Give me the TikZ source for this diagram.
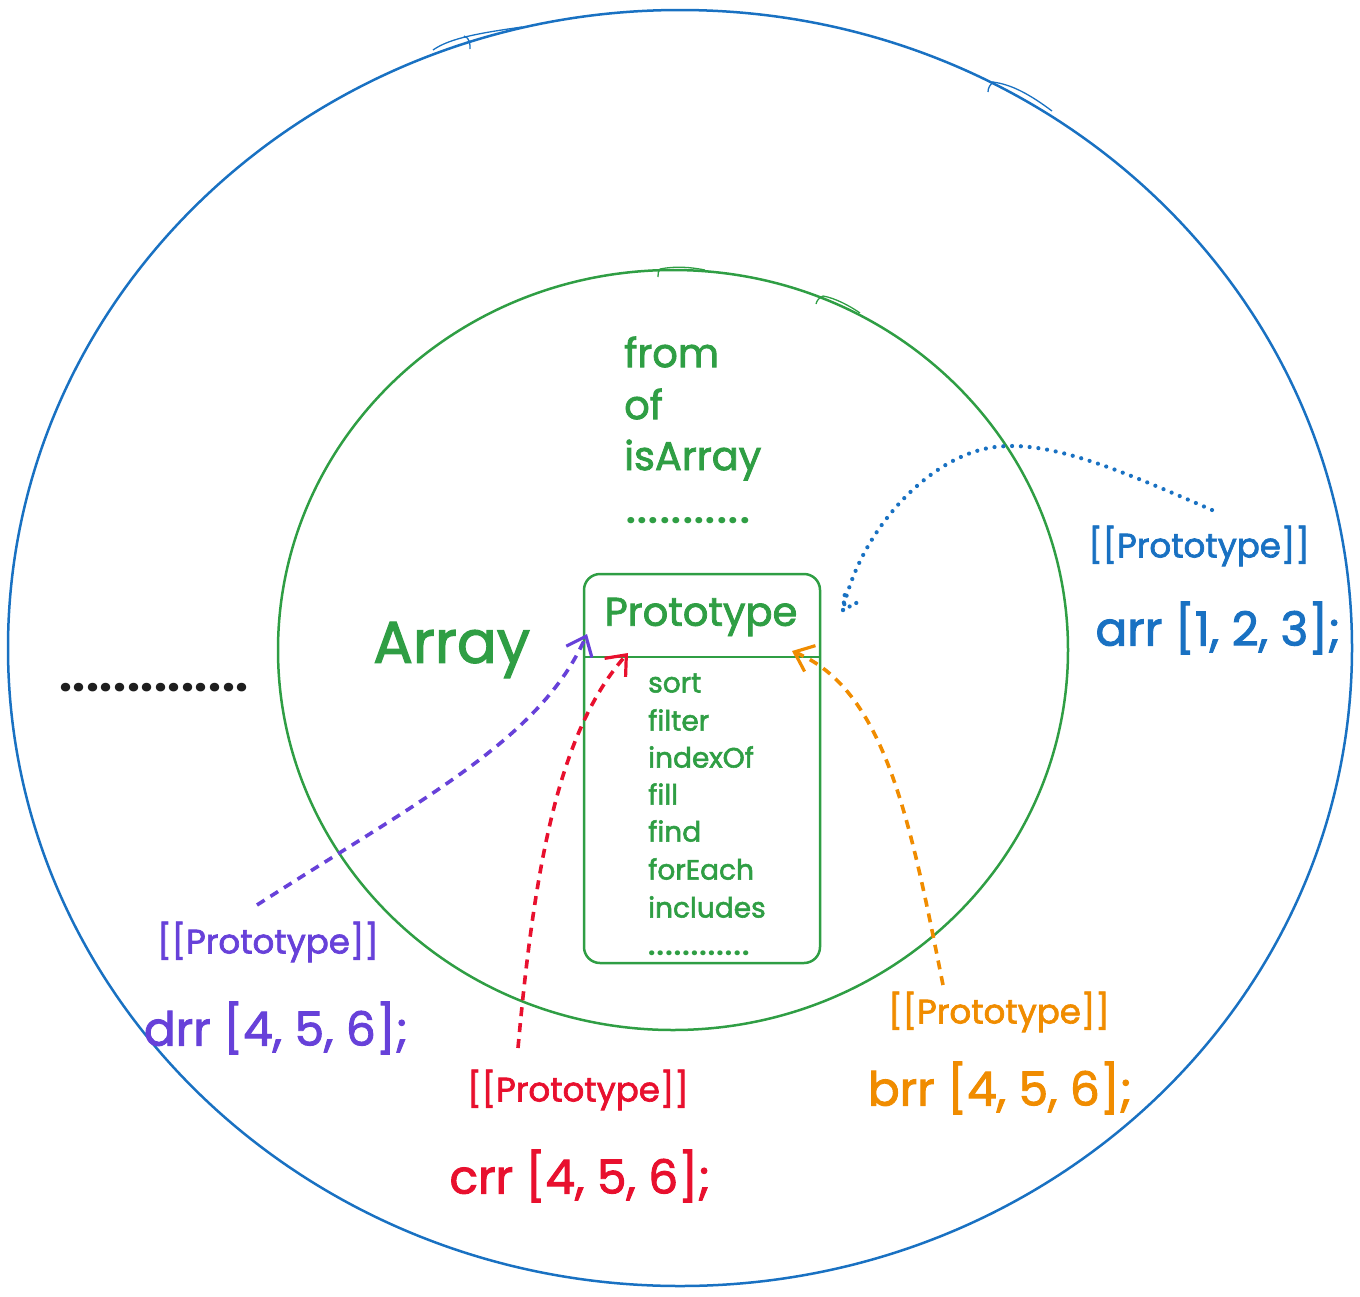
\documentclass[tikz,border=0pt]{standalone}
\usepackage{fontspec}
\setmainfont{Poppins}
\newfontfamily\hand{Poppins}[FakeBold=2]
\usetikzlibrary{arrows.meta}
\definecolor{cblue}{HTML}{1971C2}
\definecolor{cgreen}{HTML}{2F9E44}
\definecolor{cpurple}{HTML}{6741D9}
\definecolor{cred}{HTML}{E8102E}
\definecolor{corange}{HTML}{F08C00}
\definecolor{cblack}{HTML}{1E1E1E}
\newcount\dotcnt
\newcommand\dotline[2]{\dotcnt=0 \loop .\ifnum\dotcnt<#1 \hspace{#2}\fi\advance\dotcnt by 1 \ifnum\dotcnt<#1\repeat}
\tikzset{
  ring/.style={line width=2.5pt},
  sketch/.style={line width=1.3pt},
  lbl/.style={inner sep=0pt, anchor=west},
  title/.style={lbl, font=\fontsize{40}{44}\hand},
  meth/.style={lbl, font=\fontsize{28}{30}\hand, text=cgreen},
  stat/.style={lbl, font=\fontsize{40}{44}\hand, text=cgreen},
  proto/.style={inner sep=0pt, font=\fontsize{34}{36}\hand},
  arrlbl/.style={inner sep=0pt, font=\fontsize{47}{50}\hand},
  link/.style={line width=3.6pt, dash pattern=on 9pt off 7pt, -{Straight Barb[length=17pt,width=28pt,line width=3.2pt]}},
  dotline/.style={line width=4.2pt, line cap=round, dash pattern=on 0pt off 8.8pt},
}
\begin{document}
\begin{tikzpicture}[x=1pt,y=-1pt]
\useasboundingbox (0,0) rectangle (1360,1296);
% rings
\draw[ring, cblue] (680,648) ellipse [x radius=672, y radius=638];
\draw[sketch, cblue] (433,50) .. controls (450,38) and (480,33) .. (522,27);
\draw[sketch, cblue] (464,36) .. controls (470,38) and (470,44) .. (470,49);
\draw[sketch, cblue] (992,82) .. controls (1012,84) and (1032,96) .. (1052,111);
\draw[sketch, cblue] (994,82) .. controls (990,84) and (988,88) .. (988,92);
\draw[ring, cgreen] (673,650) ellipse [x radius=395, y radius=380];
\draw[sketch, cgreen] (660,269) .. controls (675,266) and (690,267) .. (705,270);
\draw[sketch, cgreen] (660,269) .. controls (658,271) and (658,274) .. (658,277);
\draw[sketch, cgreen] (823,296) .. controls (835,298) and (850,306) .. (860,313);
\draw[sketch, cgreen] (823,296) .. controls (819,298) and (817,300) .. (816,304);
% prototype box
\node[draw=cgreen, ring, rounded corners=16pt, minimum width=236pt, minimum height=389pt, inner sep=0pt] (box) at (702,768.5) {};
\coordinate (divL) at (584,657);
\coordinate (divR) at (820,657);
\draw[ring, cgreen] (divL) -- (divR);
\node[title, text=cgreen, anchor=center] (ptitle) at (701,617) {Prototype};
\node[meth] (m1) at (648,683) {sort};
\node[meth] (m2) at (648,720) {filter};
\node[meth] (m3) at (648,757) {indexOf};
\node[meth] (m4) at (648,794) {fill};
\node[meth] (m5) at (648,831) {find};
\node[meth] (m6) at (648,869) {forEach};
\node[meth] (m7) at (648,907) {includes};
\node[meth, font=\fontsize{26}{28}\selectfont\bfseries] (m8) at (648,953) {\dotline{12}{1.2pt}};
% static methods
\node[stat] (s1) at (624,352) {from};
\node[stat] (s2) at (624,404) {of};
\node[stat] (s3) at (624,460) {isArray};
\node[stat, font=\fontsize{34}{36}\selectfont\bfseries] (s4) at (626,521) {\dotline{11}{1.8pt}};
\node[lbl, text=cgreen, font=\fontsize{59}{62}\hand] (arrayname) at (373,650) {Array};
% outer dots
\node[lbl, text=cblack, font=\fontsize{46}{48}\selectfont\bfseries] (outerdots) at (59,688) {\dotline{14}{0.6pt}};
% instances
\node[proto, text=cblue] (pb) at (1199,546) {[[Prototype]]};
\node[arrlbl, text=cblue] (ab) at (1218,628) {arr [1, 2, 3];};
\node[proto, text=cpurple] (pp) at (268,942) {[[Prototype]]};
\node[arrlbl, text=cpurple] (ap) at (276,1028) {drr [4, 5, 6];};
\node[proto, text=cred] (pr) at (578,1090) {[[Prototype]]};
\node[arrlbl, text=cred] (ar) at (580,1176) {crr [4, 5, 6];};
\node[proto, text=corange] (po) at (999,1012) {[[Prototype]]};
\node[arrlbl, text=corange] (ao) at (1000,1088) {brr [4, 5, 6];};
% connector ends
\coordinate (sb) at (1212,510);
\coordinate (eb) at (843,610);
\coordinate (eb1) at (845,592);
\coordinate (eb2) at (860,601);
\coordinate (sp) at (257,905);
\coordinate (ep) at (587,634);
\coordinate (sr) at (518,1048);
\coordinate (er) at (628,653);
\coordinate (so) at (943,985);
\coordinate (eo) at (792,651);
\draw[dotline, cblue] (sb) .. controls (1120,470) and (1050,440) .. (995,447) .. controls (930,455) and (860,530) .. (eb);
\draw[dotline, cblue, dash pattern=on 0pt off 7.5pt] (eb) -- (eb1);
\draw[dotline, cblue, dash pattern=on 0pt off 7.5pt] (eb) -- (eb2);
\draw[link, cpurple] (sp) .. controls (420,800) and (540,740) .. (ep);
\draw[link, cred] (sr) .. controls (535,860) and (560,730) .. (er);
\draw[link, corange] (so) .. controls (910,820) and (885,690) .. (eo);
\end{tikzpicture}
\end{document}
